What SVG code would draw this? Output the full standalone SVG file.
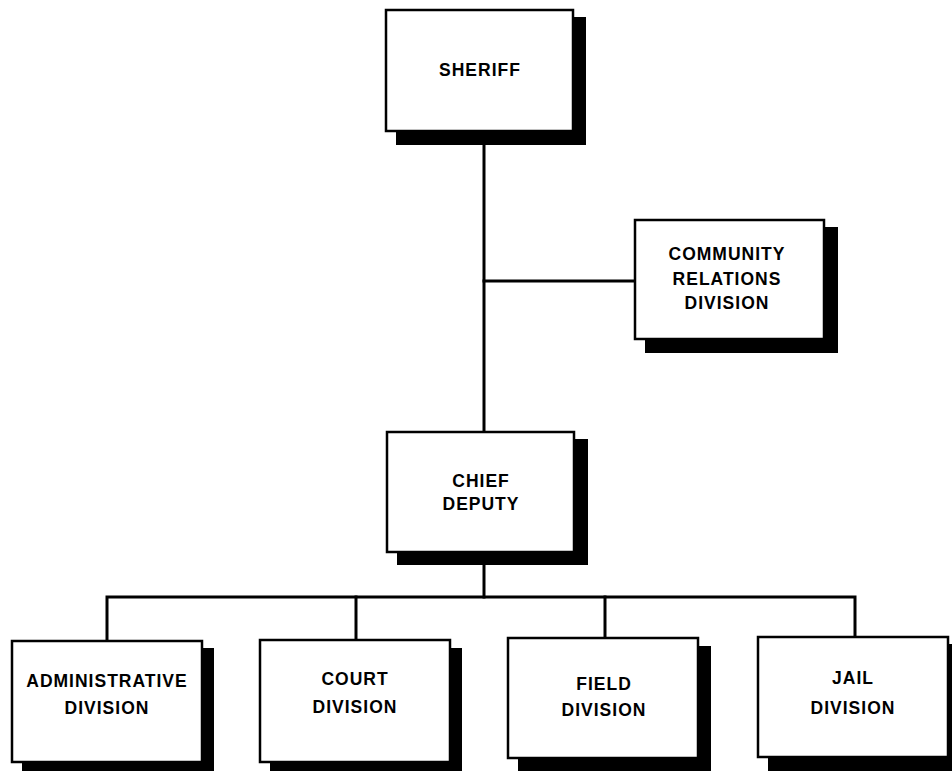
<svg xmlns="http://www.w3.org/2000/svg" width="952" height="771" viewBox="0 0 952 771">
  <style>
    .box { fill: #ffffff; stroke: #000000; stroke-width: 2.5; }
    .shadow { fill: #000000; stroke: none; }
    .conn { fill: none; stroke: #000000; stroke-width: 3; stroke-linecap: square; }
    .label { font-family: "Liberation Sans", Arial, sans-serif; font-weight: bold; font-size: 17.5px; letter-spacing: 1px; text-anchor: middle; fill: #000000; }
  </style>

  <rect width="952" height="771" fill="#ffffff"/>

  <!-- connectors -->
  <g id="connectors">
    <path class="conn" d="M484 131 V432"/>
    <path class="conn" d="M484 281 H635"/>
    <path class="conn" d="M484 552 V597"/>
    <path class="conn" d="M107 640 V597 H855 V637"/>
    <path class="conn" d="M356 597 V640"/>
    <path class="conn" d="M605 597 V638"/>
  </g>

  <!-- Sheriff -->
  <g id="sheriff">
    <path class="shadow" d="M573 17 H586 V145 H396 V131 H573 Z"/>
    <rect class="box" x="386" y="10" width="187" height="121"/>
    <text class="label" x="480" y="76">SHERIFF</text>
  </g>

  <!-- Community Relations Division -->
  <g id="community-relations">
    <path class="shadow" d="M824 227 H838 V353 H645 V339 H824 Z"/>
    <rect class="box" x="635" y="220" width="189" height="119"/>
    <text class="label" x="727" y="260">COMMUNITY</text>
    <text class="label" x="727" y="285">RELATIONS</text>
    <text class="label" x="727" y="309">DIVISION</text>
  </g>

  <!-- Chief Deputy -->
  <g id="chief-deputy">
    <path class="shadow" d="M574 439 H588 V565 H397 V552 H574 Z"/>
    <rect class="box" x="387" y="432" width="187" height="120"/>
    <text class="label" x="481" y="487">CHIEF</text>
    <text class="label" x="481" y="510">DEPUTY</text>
  </g>

  <!-- Administrative Division -->
  <g id="administrative-division">
    <path class="shadow" d="M202 648 H214 V775 H22 V762 H202 Z"/>
    <rect class="box" x="12" y="641" width="190" height="121"/>
    <text class="label" x="107" y="687">ADMINISTRATIVE</text>
    <text class="label" x="107" y="714">DIVISION</text>
  </g>

  <!-- Court Division -->
  <g id="court-division">
    <path class="shadow" d="M450 648 H462 V775 H270 V762 H450 Z"/>
    <rect class="box" x="260" y="640" width="190" height="122"/>
    <text class="label" x="355" y="685">COURT</text>
    <text class="label" x="355" y="713">DIVISION</text>
  </g>

  <!-- Field Division -->
  <g id="field-division">
    <path class="shadow" d="M698 646 H711 V775 H518 V758 H698 Z"/>
    <rect class="box" x="508" y="638" width="190" height="120"/>
    <text class="label" x="604" y="690">FIELD</text>
    <text class="label" x="604" y="716">DIVISION</text>
  </g>

  <!-- Jail Division -->
  <g id="jail-division">
    <path class="shadow" d="M948 644 H960 V775 H768 V757 H948 Z"/>
    <rect class="box" x="758" y="637" width="190" height="120"/>
    <text class="label" x="853" y="684">JAIL</text>
    <text class="label" x="853" y="714">DIVISION</text>
  </g>
</svg>
